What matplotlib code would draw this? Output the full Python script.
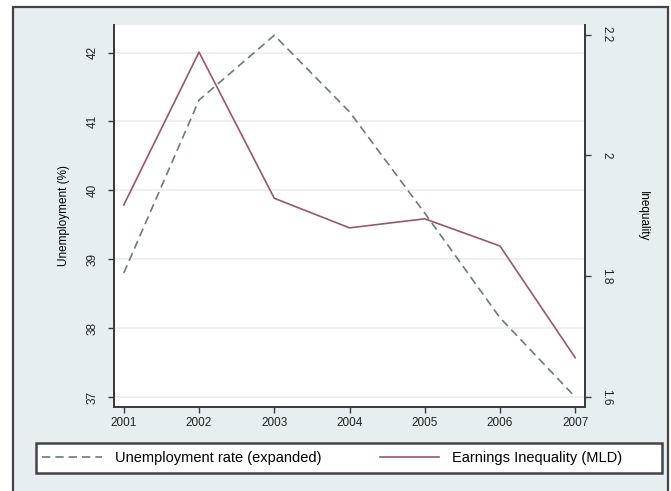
import matplotlib
matplotlib.use("Agg")
import matplotlib.pyplot as plt
from matplotlib.patches import Rectangle

plt.rcParams['font.family'] = ['Liberation Sans', 'DejaVu Sans']

# data
years = [2001, 2002, 2003, 2004, 2005, 2006, 2007]
unemployment = [38.80, 41.31, 42.25, 41.14, 39.67, 38.15, 37.00]
inequality = [1.918, 2.171, 1.929, 1.880, 1.895, 1.850, 1.665]
left_ticks = [37, 38, 39, 40, 41, 42]
right_ticks = [1.6, 1.8, 2.0, 2.2]
right_labels = ['1.6', '1.8', '2', '2.2']

bg = '#e7eef1'
dark = '#3c3c3c'

fig = plt.figure(figsize=(6.71, 4.91), dpi=100)
fig.patch.set_facecolor('white')
# stata-like outer panel
panel = Rectangle((13 / 671, -0.05), 655 / 671, 1.05 - 7 / 491,
                  transform=fig.transFigure, facecolor=bg,
                  edgecolor='#444444', linewidth=1.6, zorder=-5)
fig.add_artist(panel)

ax = fig.add_axes([114 / 671, 1 - 407 / 491, 471 / 671, 382 / 491])
ax.set_facecolor('white')
ax2 = ax.twinx()

l1, = ax.plot(years, unemployment, color='#6a7a80', linestyle=(0, (5, 3)),
              linewidth=1.2, label='Unemployment rate (expanded)')
l2, = ax2.plot(years, inequality, color='#9a5862', linewidth=1.2,
               label='Earnings Inequality (MLD)')

ax.set_xlim(2000.87, 2007.13)
ax.set_ylim(36.855, 42.40)
ax2.set_ylim(1.5834, 2.2159)

ax.set_xticks(years)
ax.set_xticklabels([str(y) for y in years], fontsize=8.5)
ax.set_yticks(left_ticks)
ax.set_yticklabels([str(t) for t in left_ticks], fontsize=8.5, rotation=90, va='center')
ax2.set_yticks(right_ticks)
ax2.set_yticklabels(right_labels, fontsize=8.5, rotation=-90, va='center')

for a in (ax, ax2):
    a.tick_params(direction='out', length=4, width=1, color=dark, colors='#222222', pad=3)
    for s in ('left', 'right', 'bottom'):
        a.spines[s].set_color(dark)
        a.spines[s].set_linewidth(1.4)
    a.spines['top'].set_visible(False)
ax.tick_params(axis='y', pad=7)
ax2.tick_params(axis='y', pad=7)

ax.yaxis.grid(True, color='#ececec', linewidth=1.2)
ax.set_axisbelow(True)

ax.set_ylabel('Unemployment (%)', fontsize=8.5, labelpad=12)
ax2.set_ylabel('Inequality', fontsize=8.5, rotation=-90, va='bottom', labelpad=18)

# legend box
fig.add_artist(Rectangle((36 / 671, 1 - 473 / 491), 626 / 671, 30 / 491,
                         transform=fig.transFigure, facecolor='white',
                         edgecolor='#444444', linewidth=1.8, zorder=2))
leg = fig.legend(handles=[l1, l2], loc='center left',
                 bbox_to_anchor=(36 / 671, 1 - 458 / 491),
                 ncol=2, fontsize=10.5, handlelength=4.1, columnspacing=4.0,
                 frameon=False, borderaxespad=0, handletextpad=0.9)
leg.set_zorder(3)

fig.savefig('out.png', dpi=100, facecolor=fig.get_facecolor())
